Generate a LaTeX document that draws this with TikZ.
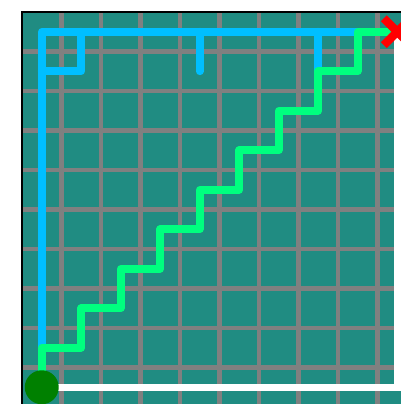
\documentclass[tikz,border=0pt]{standalone}
\definecolor{tealbg}{RGB}{32,140,130}
\definecolor{blueP}{RGB}{0,191,255}
\definecolor{greenP}{RGB}{0,255,127}
\definecolor{dotG}{RGB}{0,128,0}
\definecolor{gridG}{RGB}{128,128,128}
\begin{document}
\begin{tikzpicture}[x=1cm,y=-1cm,
  gridline/.style={gridG,line width=2.9pt},
  route/.style={line width=5.6pt,line cap=round,line join=round},
  bluepath/.style={route,blueP},
  greenpath/.style={route,greenP},
  whitepath/.style={line width=5pt,white,line join=miter}]
\useasboundingbox (-0.557,-0.304) rectangle (9.595,9.924);
\clip (-0.557,-0.304) rectangle (9.595,9.924);
\fill[tealbg] (0,0) rectangle (10,10);
\foreach \k in {1,...,9}{
  \draw[gridline] (\k,0) -- (\k,10);
  \draw[gridline] (0,\k) -- (10,\k);
}
\draw[black,line width=1.4pt] (0,0) rectangle (10,10);
\coordinate (start) at (0.5,9.5);
\coordinate (goal) at (9.5,0.5);
\coordinate (corner) at (9.5,9.5);
% white path
\draw[whitepath] (start) -- (corner) -- (goal);
% blue explored paths
\draw[bluepath] (start) -- (0.5,0.5) -- (8.5,0.5);
\draw[bluepath] (1.5,0.5) -- (1.5,1.5) -- (0.5,1.5);
\draw[bluepath] (4.5,0.5) -- (4.5,1.5);
\draw[bluepath] (7.5,0.5) -- (7.5,1.5);
% green staircase path
\draw[greenpath] (start) -- (0.5,8.5) -- (1.5,8.5) -- (1.5,7.5) -- (2.5,7.5) -- (2.5,6.5)
  -- (3.5,6.5) -- (3.5,5.5) -- (4.5,5.5) -- (4.5,4.5) -- (5.5,4.5) -- (5.5,3.5)
  -- (6.5,3.5) -- (6.5,2.5) -- (7.5,2.5) -- (7.5,1.5) -- (8.5,1.5) -- (8.5,0.5) -- (goal);
% start dot
\fill[dotG] (start) circle (0.43);
% goal cross
\draw[red,line width=6pt] ([shift={(-0.34,-0.34)}]goal) -- ([shift={(0.34,0.34)}]goal);
\draw[red,line width=6pt] ([shift={(-0.34,0.34)}]goal) -- ([shift={(0.34,-0.34)}]goal);
\end{tikzpicture}
\end{document}
